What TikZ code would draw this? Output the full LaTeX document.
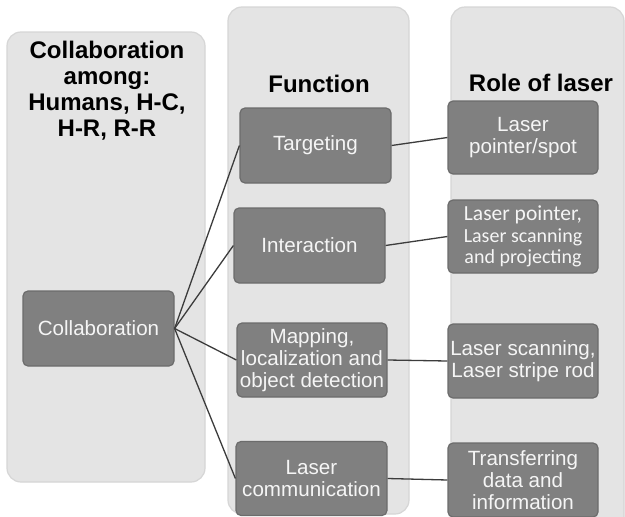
\documentclass[tikz,border=0pt]{standalone}
\usepackage{fontspec}
\setmainfont{Liberation Sans}
\newfontfamily\calib{Carlito}
\definecolor{panelfill}{RGB}{228,228,228}
\definecolor{paneldraw}{RGB}{214,214,214}
\definecolor{boxfill}{RGB}{128,128,128}
\definecolor{boxdraw}{RGB}{108,108,108}
\definecolor{boxtext}{RGB}{245,245,245}
\definecolor{linkcol}{RGB}{60,60,60}
\begin{document}
\begin{tikzpicture}[x=1pt,y=-1pt,
  panel/.style={fill=panelfill,draw=paneldraw,line width=1.2pt,rounded corners=14pt},
  fbox/.style={fill=boxfill,draw=boxdraw,line width=1.2pt,rounded corners=5pt,
    minimum width=151pt,minimum height=75pt,inner sep=0pt,text=boxtext,align=center,
    font=\fontsize{20.6}{21.8}\selectfont},
  head/.style={align=center,font=\fontsize{24}{26}\selectfont\bfseries,text=black},
  link/.style={draw=linkcol,line width=1.3pt}]
\clip (0,0) rectangle (625,517);
\fill[white] (0,0) rectangle (625,517);
% panels
\draw[panel] (7,32) rectangle (205,482);
\draw[panel] (228,7) rectangle (409,514);
\draw[panel] (451,7) rectangle (624,540);
% headers
\node[head] (h1) at (107,91) {Collaboration\\among:\\Humans, H-C,\\H-R, R-R};
\node[head] (h2) at (319,84) {Function};
\node[head] (h3) at (541,83) {Role of laser};
% boxes
\node[fbox] (col) at (98.5,328.5) {Collaboration};
\node[fbox] (tar) at (315.5,145.5) {Targeting};
\node[fbox] (int) at (309.5,245.5) {Interaction};
\node[fbox,minimum width=150pt,minimum height=74pt] (map) at (312,360) {Mapping,\\localization and\\object detection};
\node[fbox,minimum width=151pt,minimum height=74pt] (com) at (311.5,478.5) {Laser\\communication};
\node[fbox,minimum width=150pt,minimum height=73pt] (r1) at (523,137.5) {Laser\\pointer/spot};
\node[fbox,minimum width=150pt,minimum height=73pt,font=\calib\fontsize{20}{21.7}\selectfont] (r2) at (523,236.5) {{\fontsize{21.5}{21.7}\selectfont Laser pointer,}\\Laser scanning\\and projecting};
\node[fbox,minimum width=150pt,minimum height=74pt] (r3) at (523,361) {Laser scanning,\\Laser stripe rod};
\node[fbox,minimum width=150pt,minimum height=74pt] (r4) at (523,480) {Transferring\\data and\\information};
% links
\draw[link] (col.east) -- (tar.west);
\draw[link] (col.east) -- (int.west);
\draw[link] (col.east) -- (map.west);
\draw[link] (col.east) -- (com.west);
\draw[link] (tar.east) -- (r1.west);
\draw[link] (int.east) -- (r2.west);
\draw[link] (map.east) -- (r3.west);
\draw[link] (com.east) -- (r4.west);
\end{tikzpicture}
\end{document}
